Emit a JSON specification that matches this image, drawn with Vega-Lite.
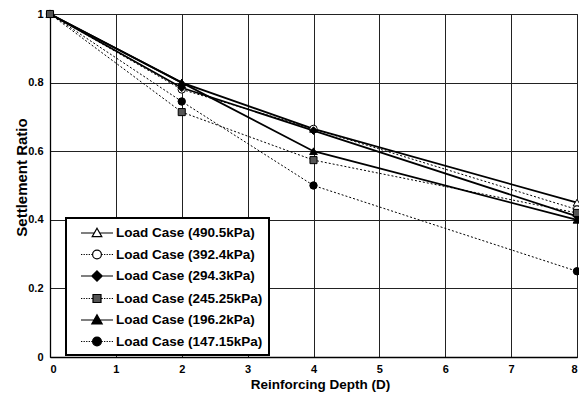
{
  "$schema": "https://vega.github.io/schema/vega-lite/v6.json",
  "width": 527,
  "height": 343,
  "autosize": {"type": "none"},
  "padding": {"left": 50, "top": 14, "right": 2, "bottom": 44},
  "background": "white",
  "config": {
    "font": "Liberation Sans",
    "axis": {
      "labelFont": "Liberation Sans", "labelFontWeight": "bold", "labelFontSize": 11, "labelColor": "black",
      "titleFont": "Liberation Sans", "titleFontWeight": "bold", "titleColor": "black",
      "gridColor": "#222", "gridOpacity": 1, "gridWidth": 1, "domainColor": "black", "domainWidth": 1.3, "ticks": false
    },
    "legend": {
      "labelFont": "Liberation Sans", "labelFontWeight": "bold", "labelFontSize": 13.5, "labelColor": "black",
      "strokeColor": "black", "strokeWidth": 2, "fillColor": "white", "padding": 6, "rowPadding": 5.5,
      "symbolOffset": 16, "labelOffset": 10, "labelLimit": 300, "symbolSize": 256,
      "symbolStrokeWidth": 1.2, "symbolStrokeColor": "black", "symbolOpacity": 1
    },
    "view": {"stroke": "#222"}
  },
  "data": {"values": [
    {"depth": 0, "ratio": 1, "load": "Load Case (490.5kPa)"},
    {"depth": 2, "ratio": 0.80, "load": "Load Case (490.5kPa)"},
    {"depth": 4, "ratio": 0.665, "load": "Load Case (490.5kPa)"},
    {"depth": 8, "ratio": 0.45, "load": "Load Case (490.5kPa)"},
    {"depth": 0, "ratio": 1, "load": "Load Case (392.4kPa)"},
    {"depth": 2, "ratio": 0.78, "load": "Load Case (392.4kPa)"},
    {"depth": 4, "ratio": 0.665, "load": "Load Case (392.4kPa)"},
    {"depth": 8, "ratio": 0.43, "load": "Load Case (392.4kPa)"},
    {"depth": 0, "ratio": 1, "load": "Load Case (294.3kPa)"},
    {"depth": 2, "ratio": 0.785, "load": "Load Case (294.3kPa)"},
    {"depth": 4, "ratio": 0.66, "load": "Load Case (294.3kPa)"},
    {"depth": 8, "ratio": 0.41, "load": "Load Case (294.3kPa)"},
    {"depth": 0, "ratio": 1, "load": "Load Case (245.25kPa)"},
    {"depth": 2, "ratio": 0.714, "load": "Load Case (245.25kPa)"},
    {"depth": 4, "ratio": 0.574, "load": "Load Case (245.25kPa)"},
    {"depth": 8, "ratio": 0.42, "load": "Load Case (245.25kPa)"},
    {"depth": 0, "ratio": 1, "load": "Load Case (196.2kPa)"},
    {"depth": 2, "ratio": 0.80, "load": "Load Case (196.2kPa)"},
    {"depth": 4, "ratio": 0.60, "load": "Load Case (196.2kPa)"},
    {"depth": 8, "ratio": 0.40, "load": "Load Case (196.2kPa)"},
    {"depth": 0, "ratio": 1, "load": "Load Case (147.15kPa)"},
    {"depth": 2, "ratio": 0.745, "load": "Load Case (147.15kPa)"},
    {"depth": 4, "ratio": 0.50, "load": "Load Case (147.15kPa)"},
    {"depth": 8, "ratio": 0.25, "load": "Load Case (147.15kPa)"}
  ]},
  "encoding": {
    "x": {"field": "depth", "type": "quantitative", "scale": {"domain": [0, 8], "nice": false},
      "axis": {"values": [0, 1, 2, 3, 4, 5, 6, 7, 8], "format": "d", "title": "Reinforcing Depth (D)", "labelPadding": 6,
        "titleFontSize": 13.5, "titleX": 270, "titleY": 20, "titleBaseline": "top"}},
    "y": {"field": "ratio", "type": "quantitative", "scale": {"domain": [0, 1], "nice": false},
      "axis": {"values": [0, 0.2, 0.4, 0.6, 0.8, 1], "format": "~g", "title": "Settlement Ratio", "labelPadding": 7,
        "titleFontSize": 15, "titleX": -21, "titleY": 163}}
  },
  "layer": [
    {
      "transform": [{"filter": {"field": "load", "oneOf": ["Load Case (490.5kPa)", "Load Case (294.3kPa)", "Load Case (196.2kPa)"]}}],
      "mark": {"type": "line", "color": "black", "strokeWidth": 1.8},
      "encoding": {"detail": {"field": "load", "type": "nominal"}}
    },
    {
      "transform": [{"filter": {"field": "load", "oneOf": ["Load Case (392.4kPa)", "Load Case (245.25kPa)", "Load Case (147.15kPa)"]}}],
      "mark": {"type": "line", "color": "black", "strokeWidth": 1, "strokeDash": [2, 2]},
      "encoding": {"detail": {"field": "load", "type": "nominal"}}
    },
    {
      "transform": [{"filter": {"field": "load", "oneOf": ["Load Case (490.5kPa)", "Load Case (196.2kPa)"]}}],
      "mark": {"type": "point", "shape": "triangle-up", "filled": true, "stroke": "black", "strokeWidth": 1, "size": 60, "opacity": 1},
      "encoding": {
        "fill": {"field": "load", "type": "nominal",
          "legend": {"title": null, "orient": "none", "legendX": 16, "legendY": 204,
            "encode": {"symbols": {"update": {"stroke": {"value": "black"}, "strokeWidth": {"value": 1.2}, "opacity": {"value": 1}}}}},
          "scale": {"domain": ["Load Case (490.5kPa)", "Load Case (392.4kPa)", "Load Case (294.3kPa)", "Load Case (245.25kPa)", "Load Case (196.2kPa)", "Load Case (147.15kPa)"],
            "range": ["white", "white", "black", "#555", "black", "black"]}}
      }
    },
    {
      "transform": [{"filter": {"field": "load", "oneOf": ["Load Case (392.4kPa)", "Load Case (147.15kPa)"]}}],
      "mark": {"type": "point", "shape": "circle", "filled": true, "stroke": "black", "strokeWidth": 1, "size": 55, "opacity": 1},
      "encoding": {
        "fill": {"field": "load", "type": "nominal",
          "legend": {"title": null, "orient": "none", "legendX": 16, "legendY": 204,
            "encode": {"symbols": {"update": {"stroke": {"value": "black"}, "strokeWidth": {"value": 1.2}, "opacity": {"value": 1}}}}}}
      }
    },
    {
      "transform": [{"filter": {"field": "load", "oneOf": ["Load Case (294.3kPa)"]}}],
      "mark": {"type": "point", "shape": "diamond", "filled": true, "stroke": "black", "strokeWidth": 1, "size": 60, "opacity": 1},
      "encoding": {
        "fill": {"field": "load", "type": "nominal",
          "legend": {"title": null, "orient": "none", "legendX": 16, "legendY": 204,
            "encode": {"symbols": {"update": {"stroke": {"value": "black"}, "strokeWidth": {"value": 1.2}, "opacity": {"value": 1}}}}}}
      }
    },
    {
      "transform": [{"filter": {"field": "load", "oneOf": ["Load Case (245.25kPa)"]}}],
      "mark": {"type": "point", "shape": "square", "filled": true, "stroke": "black", "strokeWidth": 1, "size": 50, "opacity": 1},
      "encoding": {
        "fill": {"field": "load", "type": "nominal",
          "legend": {"title": null, "orient": "none", "legendX": 16, "legendY": 204,
            "encode": {"symbols": {"update": {"stroke": {"value": "black"}, "strokeWidth": {"value": 1.2}, "opacity": {"value": 1}}}}}}
      }
    },
    {
      "mark": {"type": "point", "filled": true, "stroke": "black", "strokeWidth": 1.2, "size": 256, "opacity": 0},
      "encoding": {
        "shape": {"field": "load", "type": "nominal",
          "legend": {"title": null, "orient": "none", "legendX": 16, "legendY": 204,
            "encode": {"symbols": {"update": {"stroke": {"value": "black"}, "strokeWidth": {"value": 1.2}, "opacity": {"value": 1}}}}},
          "scale": {"domain": ["Load Case (490.5kPa)", "Load Case (392.4kPa)", "Load Case (294.3kPa)", "Load Case (245.25kPa)", "Load Case (196.2kPa)", "Load Case (147.15kPa)"],
            "range": [
              "M-2,0L-0.36,0M0.36,0L2,0M0,-0.6L0.6,0.45L-0.6,0.45Z",
              "M-2,0L-1.84,0M-1.68,0L-1.52,0M-1.36,0L-1.2,0M-1.04,0L-0.88,0M-0.72,0L-0.56,0M0.56,0L0.72,0M0.88,0L1.04,0M1.2,0L1.36,0M1.52,0L1.68,0M1.84,0L2,0M0.55,0A0.55,0.55,0,1,1,-0.55,0A0.55,0.55,0,1,1,0.55,0Z",
              "M-2,0L2,0M0,-0.65L0.65,0L0,0.65L-0.65,0Z",
              "M-2,0L-1.84,0M-1.68,0L-1.52,0M-1.36,0L-1.2,0M-1.04,0L-0.88,0M-0.72,0L-0.56,0M0.56,0L0.72,0M0.88,0L1.04,0M1.2,0L1.36,0M1.52,0L1.68,0M1.84,0L2,0M-0.5,-0.5L0.5,-0.5L0.5,0.5L-0.5,0.5Z",
              "M-2,0L2,0M0,-0.65L0.65,0.5L-0.65,0.5Z",
              "M-2,0L-1.84,0M-1.68,0L-1.52,0M-1.36,0L-1.2,0M-1.04,0L-0.88,0M-0.72,0L-0.56,0M0.56,0L0.72,0M0.88,0L1.04,0M1.2,0L1.36,0M1.52,0L1.68,0M1.84,0L2,0M0.55,0A0.55,0.55,0,1,1,-0.55,0A0.55,0.55,0,1,1,0.55,0Z"
            ]}},
        "fill": {"field": "load", "type": "nominal",
          "legend": {"title": null, "orient": "none", "legendX": 16, "legendY": 204,
            "encode": {"symbols": {"update": {"stroke": {"value": "black"}, "strokeWidth": {"value": 1.2}, "opacity": {"value": 1}}}}}}
      }
    }
  ]
}
